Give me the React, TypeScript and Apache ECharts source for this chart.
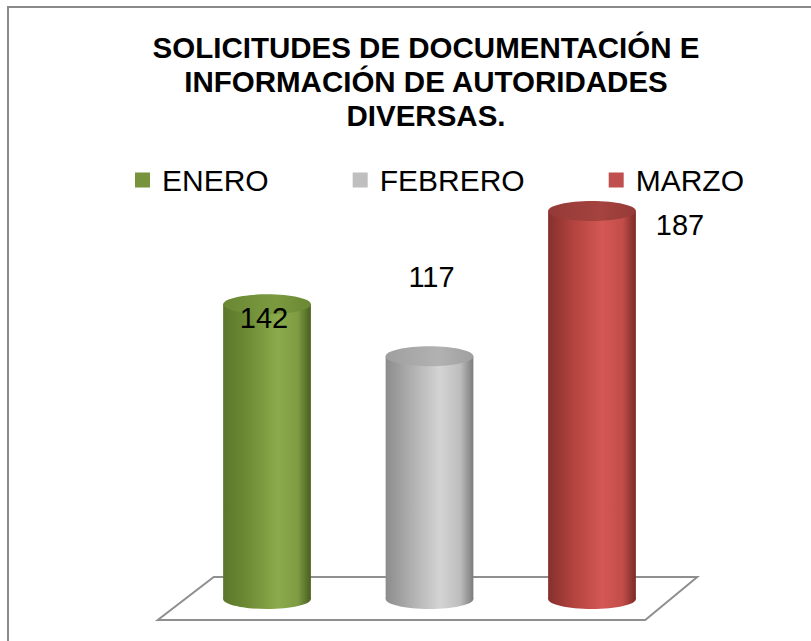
import { useEffect, useRef } from "react";
import * as echarts from "echarts";

const titleLines = ["SOLICITUDES DE DOCUMENTACIÓN E", "INFORMACIÓN DE AUTORIDADES", "DIVERSAS."];
const categories = ["ENERO", "FEBRERO", "MARZO"];
const values = [142, 117, 187];
const yMax = 200;

const legendColors = ["#77933c", "#bfbfbf", "#c0504d"];
const bodyStops = [
  ["#5a772a", "#6f8d36", "#8aab4c", "#7e9c42", "#485f1f"],
  ["#8c8c8c", "#b0b0b0", "#d4d4d4", "#bdbdbd", "#7c7c7c"],
  ["#86302d", "#b4443f", "#d45854", "#c34d49", "#7a2a28"],
];
const topColors = [
  ["#6a8733", "#7b9a40"],
  ["#9f9f9f", "#b2b2b2"],
  ["#963a37", "#a4433f"],
];
const labelOffsets = [
  [-3, 14],
  [2, -79],
  [88, 14],
];

const FONT = '"Liberation Sans", Arial, sans-serif';

function bodyGradient(i: number) {
  const s = bodyStops[i];
  return new echarts.graphic.LinearGradient(0, 0, 1, 0, [
    { offset: 0, color: s[0] },
    { offset: 0.3, color: s[1] },
    { offset: 0.62, color: s[2] },
    { offset: 0.85, color: s[3] },
    { offset: 1, color: s[4] },
  ]);
}

function topGradient(i: number) {
  const s = topColors[i];
  return new echarts.graphic.LinearGradient(0, 0, 1, 0, [
    { offset: 0, color: s[0] },
    { offset: 0.6, color: s[1] },
    { offset: 1, color: s[0] },
  ]);
}

export default function App() {
  const ref = useRef<HTMLDivElement>(null);

  useEffect(() => {
    if (!ref.current) return;
    const chart = echarts.init(ref.current, null, { renderer: "svg" });

    const floorSeries: any = {
      type: "custom",
      name: "floor",
      silent: true,
      z: 1,
      data: [[0, 0]],
      encode: { x: 0, y: 1 },
      renderItem: (params: any, api: any) => {
        const cs = params.coordSys;
        const zeroY = api.coord([0, 0])[1];
        const gx = cs.x;
        const gw = cs.width;
        return {
          type: "polygon",
          shape: {
            points: [
              [gx + 28, zeroY - 22],
              [gx + gw + 24, zeroY - 22],
              [gx + gw - 28, zeroY + 21],
              [gx - 28, zeroY + 21],
            ],
          },
          style: { fill: "#ffffff", stroke: "#8f8f8f", lineWidth: 2 },
        };
      },
    };

    const cylSeries = categories.map((name, i) => ({
      type: "custom",
      name,
      z: 2,
      itemStyle: { color: legendColors[i] },
      data: [[i, values[i]]],
      encode: { x: 0, y: 1 },
      renderItem: (params: any, api: any) => {
        const idx = api.value(0);
        const v = api.value(1);
        const top = api.coord([idx, v]);
        const base = api.coord([idx, 0]);
        const band = api.size([1, 0])[0];
        const hw = band * 0.27;
        const ry = 10;
        const cx = top[0];
        const grad = bodyGradient(i);
        return {
          type: "group",
          children: [
            {
              type: "ellipse",
              shape: { cx, cy: base[1], rx: hw, ry },
              style: { fill: grad },
            },
            {
              type: "rect",
              shape: { x: cx - hw, y: top[1], width: hw * 2, height: base[1] - top[1] },
              style: { fill: grad },
            },
            {
              type: "ellipse",
              shape: { cx, cy: top[1], rx: hw, ry },
              style: { fill: topGradient(i) },
            },
            {
              type: "text",
              style: {
                text: String(v),
                x: cx + labelOffsets[i][0],
                y: top[1] + labelOffsets[i][1],
                font: `29px ${FONT}`,
                fill: "#000000",
                align: "center",
                verticalAlign: "middle",
              },
            },
          ],
        };
      },
    }));

    chart.setOption({
      animation: false,
      backgroundColor: "#ffffff",
      grid: { left: 185.75, right: 137.75, top: 184, bottom: 42 },
      xAxis: { type: "category", data: categories, show: false },
      yAxis: { type: "value", min: 0, max: yMax, show: false },
      legend: {
        data: categories,
        left: 135,
        top: 165,
        padding: 0,
        icon: "rect",
        itemWidth: 15,
        itemHeight: 15,
        itemGap: 84,
        selectedMode: false,
        textStyle: {
          fontFamily: FONT,
          fontSize: 30,
          color: "#000000",
          padding: [0, 0, 0, 7],
        },
      },
      graphic: [
        {
          type: "rect",
          silent: true,
          shape: { x: 8, y: 7, width: 830, height: 660 },
          style: { fill: "none", stroke: "#8a8a8a", lineWidth: 2 },
        },
        {
          type: "text",
          x: 426,
          y: 30,
          style: {
            text: titleLines.join("\n"),
            font: `bold 29.5px ${FONT}`,
            fill: "#000000",
            align: "center",
            lineHeight: 34,
          },
        },
      ],
      series: [floorSeries, ...cylSeries],
    });

    return () => chart.dispose();
  }, []);

  return (
    <div
      ref={ref}
      style={{ position: "fixed", left: 0, top: 0, width: 811, height: 641 }}
    />
  );
}
